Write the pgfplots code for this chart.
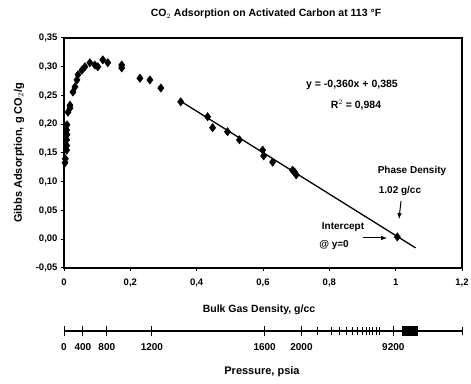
\documentclass[border=0pt]{standalone}
\usepackage{pgfplots}
\pgfplotsset{compat=1.18}
\usepackage{fontspec}
\setmainfont{Liberation Sans}
\begin{document}
\begin{tikzpicture}[x=1pt,y=1pt,font=\bfseries]
\useasboundingbox (0,0) rectangle (471,383);
\begin{axis}[
  at={(64pt,115pt)}, anchor=south west,
  scale only axis, width=398pt, height=230pt,
  xmin=0, xmax=1.2, ymin=-0.05, ymax=0.35,
  xtick={0,0.2,0.4,0.6,0.8,1,1.2},
  ytick={-0.05,0,0.05,0.1,0.15,0.2,0.25,0.3,0.35},
  xticklabels={0,{0,2},{0,4},{0,6},{0,8},1,{1,2}},
  yticklabels={{-0,05},{0,00},{0,05},{0,10},{0,15},{0,20},{0,25},{0,30},{0,35}},
  tick align=outside, tick pos=left,
  major tick length=3pt,
  tick style={black, line width=1pt},
  axis line style={line width=1.2pt},
  ticklabel style={font=\bfseries\fontsize{9.5}{11}\selectfont},
  xticklabel style={yshift=-4pt},
  /pgf/number format/assume math mode=true,
  clip=false,
]
\addplot[only marks, mark=diamond*, mark size=4.2pt, black] coordinates {
(0.003,0.133) (0.004,0.140) (0.008,0.155) (0.008,0.163) (0.008,0.173) (0.009,0.182) (0.008,0.190) (0.009,0.199)
(0.012,0.221) (0.018,0.228) (0.018,0.233) (0.027,0.256) (0.033,0.265) (0.039,0.277)
(0.042,0.286) (0.054,0.294) (0.063,0.300) (0.078,0.307) (0.093,0.303) (0.102,0.300)
(0.117,0.312) (0.132,0.307) (0.174,0.303) (0.174,0.298)
(0.229,0.280) (0.259,0.277) (0.292,0.263)
(0.352,0.239) (0.433,0.213) (0.448,0.194) (0.493,0.187) (0.529,0.173)
(0.599,0.155) (0.602,0.145) (0.629,0.134) (0.689,0.120) (0.695,0.117) (0.700,0.112)
(1.005,0.004)
};
\addplot[black, line width=1.3pt] coordinates {(0.352,0.240) (1.06,-0.015)};
\end{axis}
% pressure axis
\begin{axis}[
  at={(64pt,52pt)}, anchor=south west,
  scale only axis, width=398pt, height=1pt,
  xmin=0, xmax=1.2, ymin=0, ymax=1,
  axis x line*=bottom, axis y line=none,
  axis line style={line width=1.2pt},
  xtick={0,0.057,0.129,0.265,0.605,0.716,0.993},
  xticklabels={0,400,800,1200,1600,2000,9200},
  extra x ticks={0.764,0.806,0.830,0.851,0.869,0.884,0.899,0.911,0.920,0.929,0.941,0.950,1.2},
  extra x tick labels={},
  extra x tick style={major tick length=9pt},
  tick align=center, major tick length=11pt,
  tick style={black, line width=1pt},
  ticklabel style={font=\bfseries\fontsize{10}{11}\selectfont},
  xticklabel style={yshift=-3pt},
  /pgf/number format/assume math mode=true,
  clip=false,
]
\end{axis}
\fill (401.5,47) rectangle (418,57);
\node[font=\bfseries\fontsize{10.5}{12}\selectfont] at (259,73) {Bulk Gas Density, g/cc};
\node[font=\bfseries\fontsize{11}{12}\selectfont] at (262,11) {Pressure, psia};
\node[font=\bfseries\fontsize{10.5}{12}\selectfont] at (266,369) {CO$_2$ Adsorption on Activated Carbon at 113 \textdegree F};
\node[rotate=90, font=\bfseries\fontsize{11}{12}\selectfont] at (19,230) {Gibbs Adsorption, g CO$_2$/g};
\node[font=\bfseries\fontsize{10.5}{12}\selectfont] at (352,298) {y = -0,360x + 0,385};
\node[font=\bfseries\fontsize{10.5}{12}\selectfont] at (356,278) {R$^2$ = 0,984};
\node[font=\bfseries\fontsize{10}{12}\selectfont] at (412,212) {Phase Density};
\node[font=\bfseries\fontsize{10}{12}\selectfont] at (400,192) {1.02 g/cc};
\draw[-latex, line width=1pt] (401,182) -- (399,164);
\node[font=\bfseries\fontsize{10}{12}\selectfont] at (343,156) {Intercept};
\node[font=\bfseries\fontsize{10}{12}\selectfont] at (334,138) {@ y=0};
\draw[-latex, line width=1pt] (363,145) -- (387,145);
\end{tikzpicture}
\end{document}
